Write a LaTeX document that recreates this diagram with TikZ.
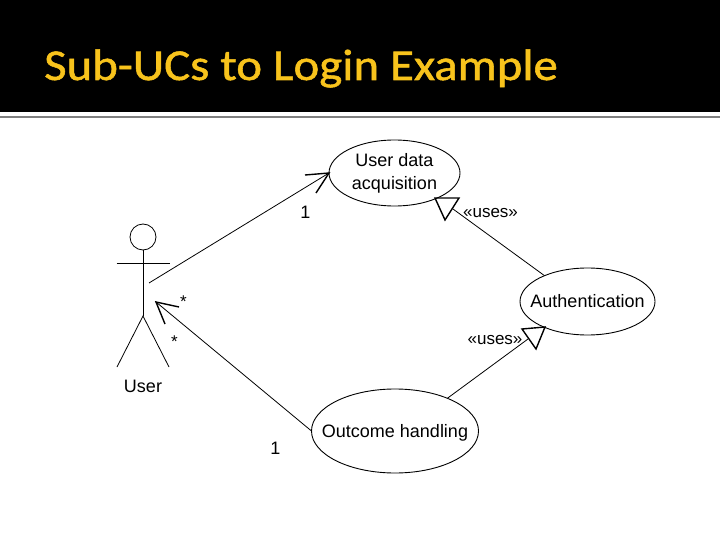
\documentclass[tikz,border=0pt]{standalone}
\usepackage{fontspec}
\setmainfont{Liberation Sans}
\newfontfamily\titlefont[FakeStretch=1.11,FakeBold=1.2]{Carlito}
\usetikzlibrary{shapes.geometric}
\definecolor{titlegold}{HTML}{F8C31C}
\tikzset{
  x=1pt,y=-1pt,
  usecase/.style={draw,ellipse,line width=0.9pt,inner xsep=-22pt,inner ysep=0pt,outer sep=0pt,align=center,font=\fontsize{18}{23}\selectfont},
  lbl/.style={inner sep=0pt,font=\fontsize{17}{19}\selectfont},
  num/.style={inner sep=0pt,font=\fontsize{18}{20}\selectfont},
  line/.style={line width=0.8pt},
  head/.style={line width=1.4pt},
  stick/.style={line width=0.8pt},
}
\begin{document}
\begin{tikzpicture}
\useasboundingbox (0,0) rectangle (720,540);
\fill[black] (0,0) rectangle (720,112.5);
\fill[gray] (0,116.5) rectangle (720,117.7);
\node[anchor=base west,inner sep=0pt,text=titlegold,font=\titlefont\fontsize{44}{48}\selectfont] (title) at (44,80) {Sub-UCs to Login Example};

\node[usecase,minimum width=131pt,minimum height=66pt] (uda) at (394.5,173) {User data\\acquisition};
\node[usecase,minimum width=135pt,minimum height=67pt] (auth) at (587.5,301.5) {Authentication};
\node[usecase,text depth=0pt,minimum width=167pt,minimum height=84pt] (out) at (395,431) {Outcome handling};

% actor
\node[draw,circle,line width=0.8pt,minimum size=26pt,inner sep=0pt,outer sep=0pt] (ahead) at (143,237) {};
\coordinate (hip) at (143,316);
\coordinate (armL) at (116.5,263);
\coordinate (armR) at (170,263);
\coordinate (legL) at (117,367);
\coordinate (legR) at (169,367);
\draw[stick] (ahead.south) -- (hip);
\draw[stick] (armL) -- (armR);
\draw[stick] (legL) -- (hip) -- (legR);
\node[lbl,font=\fontsize{18}{20}\selectfont] (user) at (143,386) {User};

% user -- user data acquisition
\coordinate (ustart) at (149,283);
\coordinate (h1a) at (305,175);
\coordinate (h1b) at (316,193);
\draw[line] (ustart) -- (uda.west);
\draw[head] (h1a) -- (uda.west) -- (h1b);

% outcome -- user
\coordinate (utip) at (156,302);
\coordinate (h2a) at (179,307);
\coordinate (h2b) at (165,324);
\draw[line] (out.west) -- (utip);
\draw[head] (h2a) -- (utip) -- (h2b);

% uses: authentication -> user data
\coordinate (t1a) at (435,198);
\coordinate (t1b) at (459,198);
\coordinate (t1c) at (445,220);
\coordinate (t1m) at (453,209);
\draw[line] (auth.149) -- (t1m);
\draw[head] (t1a) -- (t1b) -- (t1c) -- cycle;

% uses: outcome -> authentication
\coordinate (t2a) at (522,329);
\coordinate (t2b) at (545,327);
\coordinate (t2c) at (536,349);
\coordinate (t2m) at (528,339);
\draw[line] (out.32) -- (t2m);
\draw[head] (t2a) -- (t2b) -- (t2c) -- cycle;

\node[num] (m1) at (305.5,212) {1};
\node[num] (m2) at (275.5,448) {1};
\node[lbl] (s1) at (183.5,301.5) {*};
\node[lbl] (s2) at (174.5,341.5) {*};
\node[lbl] (u1) at (490.5,213) {«uses»};
\node[lbl] (u2) at (495,340) {«uses»};
\end{tikzpicture}
\end{document}
